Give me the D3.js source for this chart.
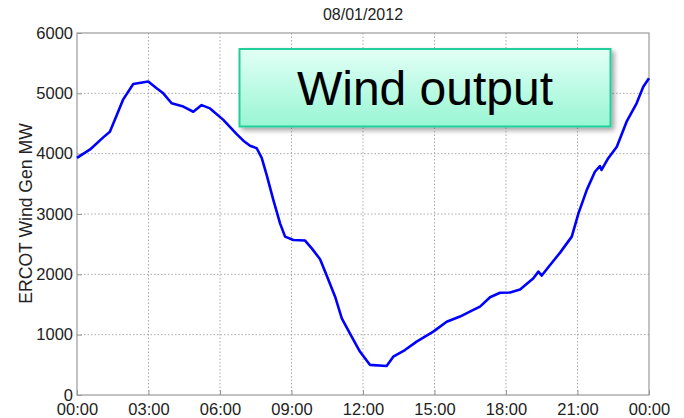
<!DOCTYPE html>
<html>
<head>
<meta charset="utf-8">
<script src="https://cdnjs.cloudflare.com/ajax/libs/d3/7.8.5/d3.min.js"></script>
<style>
  body { margin: 0; background: #fff; }
  svg text { font-family: "Liberation Sans", Arial, sans-serif; }
</style>
</head>
<body>
<div id="chart"></div>
<script>
// hours since midnight
let hours = [0, 0.55, 1.1, 1.38, 1.67, 1.94, 2.36, 2.99, 3.34, 3.62, 3.97, 4.46, 4.88, 5.23,
  5.58, 6.14, 6.7, 6.98, 7.26, 7.54, 7.75, 7.96, 8.24, 8.52, 8.73, 9.08, 9.57, 9.85, 10.2,
  10.48, 10.83, 11.11, 11.45, 11.87, 12.29, 12.99, 13.27, 13.76, 14.25, 14.95, 15.51,
  16.07, 16.63, 16.91, 17.33, 17.75, 18.17, 18.59, 19.15, 19.36, 19.5, 19.85, 20.27,
  20.76, 21.04, 21.39, 21.73, 21.94, 22.01, 22.29, 22.65, 23.06, 23.48, 23.76, 24];
// wind generation in MW
let windMW = [3930, 4070, 4270, 4365, 4640, 4900, 5155, 5195, 5085, 5000, 4835, 4780, 4695, 4805,
  4750, 4560, 4325, 4215, 4130, 4090, 3930, 3645, 3230, 2845, 2625, 2570, 2560, 2430, 2250,
  1975, 1630, 1270, 1020, 720, 500, 480, 635, 745, 885, 1050, 1215,
  1300, 1410, 1465, 1620, 1695, 1700, 1750, 1935, 2045, 1980, 2155, 2360,
  2625, 3010, 3400, 3700, 3795, 3730, 3925, 4115, 4530, 4835, 5110, 5250];
let xTicks = [0, 3, 6, 9, 12, 15, 18, 21, 24];
let xTickLabels = ['00:00', '03:00', '06:00', '09:00', '12:00', '15:00', '18:00', '21:00', '00:00'];
let yTicks = [0, 1000, 2000, 3000, 4000, 5000, 6000];

let width = 684,
  height = 418,
  margin = { top: 33, right: 35, bottom: 23, left: 77 };

let svg = d3.select('#chart')
  .append('svg')
  .attr('width', width)
  .attr('height', height);

let x = d3.scaleLinear().domain([0, 24]).range([margin.left, width - margin.right]);
let y = d3.scaleLinear().domain([0, 6000]).range([height - margin.bottom, margin.top]);

let defs = svg.append('defs');
let grad = defs.append('linearGradient')
  .attr('id', 'boxFill')
  .attr('x1', 0).attr('y1', 0).attr('x2', 0).attr('y2', 1);
grad.append('stop').attr('offset', '0%').attr('stop-color', '#e2fff6');
grad.append('stop').attr('offset', '100%').attr('stop-color', '#98f6d4');
let shadow = defs.append('filter').attr('id', 'shadow')
  .attr('x', '-10%').attr('y', '-20%').attr('width', '130%').attr('height', '150%');
shadow.append('feDropShadow')
  .attr('dx', 3).attr('dy', 3).attr('stdDeviation', 2.5)
  .attr('flood-color', '#000').attr('flood-opacity', 0.35);

// grid lines
svg.append('g')
  .selectAll('line.vgrid')
  .data(xTicks.slice(1, -1))
  .enter()
  .append('line')
  .attr('x1', d => x(d)).attr('x2', d => x(d))
  .attr('y1', y(0)).attr('y2', y(6000))
  .attr('stroke', '#aaa')
  .attr('stroke-dasharray', '1.5,2');
svg.append('g')
  .selectAll('line.hgrid')
  .data(yTicks.slice(1, -1))
  .enter()
  .append('line')
  .attr('x1', x(0)).attr('x2', x(24))
  .attr('y1', d => y(d)).attr('y2', d => y(d))
  .attr('stroke', '#aaa')
  .attr('stroke-dasharray', '1.5,2');

// axes, matlab style ticks pointing in
let xAxis = d3.axisBottom(x)
  .tickValues(xTicks)
  .tickSize(-5)
  .tickPadding(8)
  .tickFormat((d, i) => xTickLabels[i]);
svg.append('g')
  .attr('transform', 'translate(0,' + y(0) + ')')
  .call(xAxis)
  .call(g => g.select('.domain').remove());
let yAxis = d3.axisLeft(y)
  .tickValues(yTicks)
  .tickSize(-5)
  .tickPadding(4)
  .tickFormat(d3.format('d'));
svg.append('g')
  .attr('transform', 'translate(' + x(0) + ',0)')
  .call(yAxis)
  .call(g => g.select('.domain').remove());

svg.selectAll('.tick line').attr('stroke', '#999');
svg.selectAll('.tick text')
  .attr('font-size', 16.5)
  .attr('fill', '#222')
  .style('font-family', '"Liberation Sans", Arial, sans-serif');

// frame
svg.append('rect')
  .attr('x', x(0)).attr('y', y(6000))
  .attr('width', x(24) - x(0))
  .attr('height', y(0) - y(6000))
  .attr('fill', 'none')
  .attr('stroke', '#999')
  .attr('stroke-width', 1.2);

// the wind line
let line = d3.line()
  .x((d, i) => x(hours[i]))
  .y(d => y(d));
svg.append('path')
  .datum(windMW)
  .attr('d', line)
  .attr('fill', 'none')
  .attr('stroke', '#0000ff')
  .attr('stroke-width', 2.6)
  .attr('stroke-linejoin', 'round');

// title
svg.append('text')
  .attr('x', (x(0) + x(24)) / 2)
  .attr('y', 19.5)
  .attr('text-anchor', 'middle')
  .attr('font-size', 16)
  .attr('fill', '#222')
  .text('08/01/2012');

// y label
svg.append('text')
  .attr('transform', 'translate(31.5,213.5) rotate(-90)')
  .attr('text-anchor', 'middle')
  .attr('font-size', 17.6)
  .attr('fill', '#222')
  .text('ERCOT Wind Gen MW');

// callout box
let box = svg.append('g');
box.append('rect')
  .attr('x', 239.5).attr('y', 49)
  .attr('width', 371).attr('height', 77.5)
  .attr('fill', 'url(#boxFill)')
  .attr('stroke', '#22cf9a')
  .attr('stroke-width', 2)
  .attr('filter', 'url(#shadow)');
box.append('text')
  .attr('x', 425)
  .attr('y', 105)
  .attr('text-anchor', 'middle')
  .attr('font-size', 48)
  .attr('fill', '#000')
  .text('Wind output');
</script>
</body>
</html>
